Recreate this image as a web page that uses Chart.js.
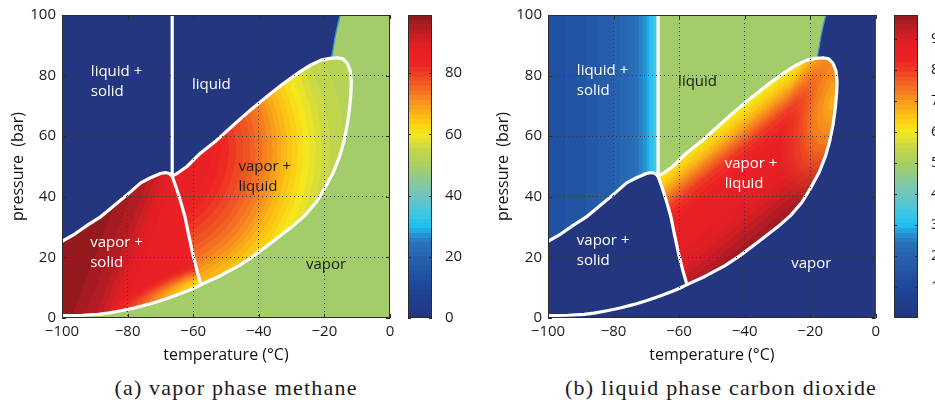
<!DOCTYPE html>
<html>
<head>
<meta charset="utf-8">
<script src="https://cdn.jsdelivr.net/npm/chart.js@4.4.1/dist/chart.umd.min.js"></script>
<style>
  html, body { margin: 0; padding: 0; background: #fff; }
  body { width: 935px; height: 403px; position: relative; overflow: hidden; }
  canvas { position: absolute; top: 0; }
  .caption {
    position: absolute; top: 377px;
    font-family: "Liberation Serif", "Times New Roman", serif;
    font-size: 22px; line-height: 22px; letter-spacing: 1.2px;
    color: #1a1a1a; white-space: nowrap; transform: translateX(-50%);
  }
</style>
</head>
<body>
<canvas id="methane" width="400" height="370" style="left:0px"></canvas>
<canvas id="methaneBar" width="70" height="370" style="left:400px"></canvas>
<canvas id="co2" width="415" height="370" style="left:470px"></canvas>
<canvas id="co2Bar" width="70" height="370" style="left:886px"></canvas>
<div class="caption" style="left:236px">(a) vapor phase methane</div>
<div class="caption" style="left:721px">(b) liquid phase carbon dioxide</div>

<script>
// ---- phase boundaries: temperature (°C) / pressure (bar) ----
var subTemp = [-100, -96, -92, -88.5, -85, -80, -76, -73, -70, -68.5, -67.3, -66.4];
var subPres = [25.3, 27.8, 30.8, 33.2, 36.3, 40.8, 44.6, 46.3, 47.7, 48.0, 47.7, 46.8];
var meltTemp = [-66.4, -66.4];
var meltPres = [46.8, 100];
var threeTemp = [-66.4, -65.0, -63.7, -62.5, -61.4, -60.0, -58.8, -57.6];
var threePres = [46.8, 42.5, 38, 33.4, 27.5, 20.5, 15.5, 11];
var lowTemp = [-100, -94, -89, -86, -82, -78, -74, -70, -66, -62, -59.5, -57.6];
var lowPres = [0.8, 0.9, 1.2, 1.6, 2.4, 3.3, 4.4, 5.7, 7.2, 8.8, 10, 11];
var dewTemp = [-57.6, -52, -46, -41.5, -36, -30, -26, -22.5, -19.8, -17.3, -15.3, -14, -13, -12.3, -11.9, -11.8, -12.1, -13, -14.3, -16, -18.3];
var dewPres = [11, 13.8, 17.3, 20.5, 25, 30, 33.8, 38.2, 43, 48, 53.5, 58.5, 64, 69.5, 74.5, 78, 81.5, 84, 85.5, 85.9, 85.7];
var bubTemp = [-18.3, -21, -24, -27.4, -32.5, -37.6, -42.6, -47.7, -52.8, -57.9, -61.9, -64.5, -66.4];
var bubPres = [85.7, 85.1, 83.6, 81.3, 77.4, 73.0, 68.6, 63.7, 58.7, 54.3, 50, 48, 46.8];
var edgeTemp = [-17.8, -17.3, -16.7, -16.0, -15.2];
var edgePres = [86, 89, 93, 96.5, 100];

// ---- axis ticks ----
var tempTicks = [-100, -80, -60, -40, -20, 0];
var presTicks = [0, 20, 40, 60, 80, 100];
var barTicksA = [0, 20, 40, 60, 80];
var barTicksB = [10, 20, 30, 40, 50, 60, 70, 80, 90];
var barMaxA = 99;
var barMaxB = 97.7;

// ---- percentages in each region ----
var flatVapor = 49;          // methane in vapor, single phase vapor
var flatLiquid = 49;         // CO2 in liquid, single phase liquid
var flatNone = 0;
// vapor + solid (methane), across the region from the cold side to the three-phase line
var vsMethaneAt = [0, 0.35, 0.55, 0.68, 0.8, 1];
var vsMethane = [99, 97.5, 94, 89, 86, 85];
// yellow fringe in the warm corner of vapor + solid
var fringeAt = [0, 0.15, 0.3, 0.45, 0.6, 0.8, 1];
var fringeMethane = [62, 63, 67, 72, 77, 82, 85];
var fringeAlpha = [1, 1, 1, 1, 1, 0.6, 0];
// vapor + liquid (methane), outward from the cold corner (distance in °C)
var vlMethaneAt = [0, 13.7, 20.7, 27.4, 34.1, 39.6, 45.1, 50.6, 56.7, 65.5];
var vlMethane = [89, 87, 85, 81, 76, 71, 65, 60, 55, 52];
// vapor + liquid (CO2), from the bubble line towards the dew line
var vlCo2At = [0, 0.064, 0.144, 0.24, 0.36, 0.6, 0.76, 0.88, 1];
var vlCo2 = [60, 64, 71, 80, 85, 88, 93, 97, 98];
// warmer band along the dew line of the CO2 panel
var rimCo2At = [0, 0.4, 0.7, 1];
var rimCo2 = [64, 70, 76, 80];
var rimAlpha = [0.9, 0.75, 0.4, 0];
// liquid + solid (CO2), across temperature
var lsCo2Temp = [-100, -90, -80, -74, -71.5, -70, -69, -68, -67.2, -66.4];
var lsCo2 = [13, 15, 19, 23, 26, 28, 30.5, 33, 37, 40];

// colour scale used by both panels
var cmapStops = [[0,'#24367f'],[6,'#203f8f'],[12,'#1f4c9e'],[19,'#2660ad'],[24,'#2a70b9'],[27,'#2590d3'],
  [30,'#1fc0ee'],[34,'#3bc6e4'],[39,'#6ac5c4'],[44,'#86c8a0'],[49,'#a2cd6a'],[55,'#c6d748'],[60,'#f4e81f'],
  [64,'#fdcb12'],[69,'#f9a11b'],[74,'#f47122'],[79,'#ef4524'],[83,'#ed2224'],[89,'#e21f25'],[93,'#c21d24'],
  [97,'#9c1b20'],[100,'#7c1518']];
var cmapRgb = cmapStops.map(s => [s[0], [1, 3, 5].map(k => parseInt(s[1].slice(k, k + 2), 16))]);

function cmap(v, a) {
  if (a === undefined) a = 1;
  v = Math.max(0, Math.min(100, v));
  var i = 0;
  while (i < cmapRgb.length - 2 && v > cmapRgb[i + 1][0]) i++;
  var lo = cmapRgb[i], hi = cmapRgb[i + 1];
  var t = (v - lo[0]) / (hi[0] - lo[0]);
  var c = lo[1].map((x, k) => Math.round(x + (hi[1][k] - x) * t));
  return 'rgba(' + c[0] + ',' + c[1] + ',' + c[2] + ',' + a + ')';
}

function lerp(xs, ys, x) {
  if (x <= xs[0]) return ys[0];
  for (var i = 1; i < xs.length; i++) {
    if (x <= xs[i]) return ys[i - 1] + (ys[i] - ys[i - 1]) * (x - xs[i - 1]) / (xs[i] - xs[i - 1]);
  }
  return ys[ys.length - 1];
}

// fill a gradient with banded colours, 64 levels like the colour bar
var BAND = 100 / 64;
function bandStops(grad, at, vals, alphas) {
  var n = 240, prev = null;
  for (var i = 0; i <= n; i++) {
    var t = i / n;
    var v = lerp(at, vals, t);
    var a = alphas ? lerp(at, alphas, t).toFixed(3) : 1;
    var col = cmap((Math.floor(v / BAND) + 0.5) * BAND, a);
    if (prev && prev !== col) grad.addColorStop(t, prev);
    grad.addColorStop(t, col);
    prev = col;
  }
}

function pix(chart, t, p) {
  return [chart.scales.x.getPixelForValue(t), chart.scales.y.getPixelForValue(p)];
}

function linearShade(from, to, at, vals) {
  return function (ctx) {
    var chart = ctx.chart;
    if (!chart.chartArea) return 'transparent';
    var a = pix(chart, from[0], from[1]), b = pix(chart, to[0], to[1]);
    var g = chart.ctx.createLinearGradient(a[0], a[1], b[0], b[1]);
    bandStops(g, at, vals);
    return g;
  };
}

function radialShade(center, radius, at, vals) {
  return function (ctx) {
    var chart = ctx.chart;
    if (!chart.chartArea) return 'transparent';
    var c = pix(chart, center[0], center[1]);
    var r = chart.scales.x.getPixelForValue(center[0] + radius) - c[0];
    var g = chart.ctx.createRadialGradient(c[0], c[1], 0, c[0], c[1], r);
    bandStops(g, at.map(x => x / radius), vals);
    return g;
  };
}

// elliptical shade, long axis pointing from center towards `toward`
function ellipseShade(center, toward, longT, shortT, at, vals, alphas) {
  return function (ctx) {
    var chart = ctx.chart;
    if (!chart.chartArea) return 'transparent';
    var c = pix(chart, center[0], center[1]), d = pix(chart, toward[0], toward[1]);
    var sx = chart.scales.x;
    var a = sx.getPixelForValue(center[0] + longT) - c[0];
    var b = sx.getPixelForValue(center[0] + shortT) - c[0];
    var off = document.createElement('canvas');
    off.width = chart.width;
    off.height = chart.height;
    var o = off.getContext('2d');
    o.translate(c[0], c[1]);
    o.rotate(Math.atan2(d[1] - c[1], d[0] - c[0]));
    o.scale(1, b / a);
    var g = o.createRadialGradient(0, 0, 0, 0, 0, a);
    bandStops(g, at, vals, alphas);
    o.fillStyle = g;
    o.fillRect(-2 * a, -2 * a, 4 * a, 4 * a);
    return chart.ctx.createPattern(off, 'no-repeat');
  };
}

var curve = (ts, ps) => ts.map((t, i) => ({ x: t, y: ps[i] }));
var rev = arr => arr.slice().reverse();

var sub = curve(subTemp, subPres);
var melt = curve(meltTemp, meltPres);
var three = curve(threeTemp, threePres);
var low = curve(lowTemp, lowPres);
var dew = curve(dewTemp, dewPres);
var bub = curve(bubTemp, bubPres);
var edge = curve(edgeTemp, edgePres);

var whole = curve([-100, 0, 0, -100], [0, 0, 100, 100]);
var vaporZone = [].concat(curve([-100, 0, 0], [0, 0, 100]), rev(edge), rev(dew), rev(low));
var vaporSolidZone = [].concat(sub, three, rev(low));
var vaporLiquidZone = [].concat(three, dew, bub);
var liquidSolidZone = [].concat(sub, melt, [{ x: -100, y: 100 }]);
var liquidZone = [].concat(melt, rev(edge), bub);

function zone(data, color) {
  return { data: data, fill: 'shape', backgroundColor: color, borderColor: 'transparent', borderWidth: 0 };
}
function boundary(data, color, width) {
  return { data: data, fill: false, borderColor: color, borderWidth: width,
    borderJoinStyle: 'round', borderCapStyle: 'round' };
}
var outline = [].concat(low, dew, bub);
var whiteLines = [
  boundary(outline, '#ffffff', 3.2),
  boundary(sub, '#ffffff', 3.2),
  boundary(three, '#ffffff', 3.2),
  boundary(melt, '#ffffff', 3.2)
];

var methaneLayers = [
  zone(whole, cmap(flatNone)),
  zone(vaporZone, cmap(flatVapor)),
  zone(vaporSolidZone, linearShade([-100, 38.5], [-63, 23.1], vsMethaneAt, vsMethane)),
  zone(vaporSolidZone, ellipseShade([-57.7, 10.9], [-70, 5.7], 34, 7.5, fringeAt, fringeMethane, fringeAlpha)),
  zone(vaporLiquidZone, radialShade([-76.2, 55.4], 65.5, vlMethaneAt, vlMethane)),
  boundary(edge, '#3d8fcf', 1.3)
].concat(whiteLines);

var co2Layers = [
  zone(whole, cmap(flatNone)),
  zone(liquidSolidZone, linearShade([lsCo2Temp[0], 50], [lsCo2Temp[lsCo2Temp.length - 1], 50],
    lsCo2Temp.map(t => (t - lsCo2Temp[0]) / (lsCo2Temp[lsCo2Temp.length - 1] - lsCo2Temp[0])), lsCo2)),
  zone(liquidZone, cmap(flatLiquid)),
  zone(vaporLiquidZone, linearShade([-66.4, 46.8], [-41.7, 14.0], vlCo2At, vlCo2)),
  zone(vaporLiquidZone, ellipseShade([-12.5, 72], [-22.5, 38.2], 34, 14, rimCo2At, rimCo2, rimAlpha)),
  boundary(edge, '#3d8fcf', 1.3)
].concat(whiteLines);

var dark = '#1a1a1a', light = '#ffffff';
var methaneText = [
  { text: ['liquid +', 'solid'], t: -91.2, p: 81.4, color: light },
  { text: ['liquid'], t: -60.4, p: 77, color: light },
  { text: ['vapor +', 'liquid'], t: -46.2, p: 50, color: dark },
  { text: ['vapor +', 'solid'], t: -91.4, p: 24.8, color: light },
  { text: ['vapor'], t: -25.6, p: 17.5, color: dark }
];
var co2Text = [
  { text: ['liquid +', 'solid'], t: -91.2, p: 81.6, color: light },
  { text: ['liquid'], t: -60.3, p: 78, color: dark },
  { text: ['vapor +', 'liquid'], t: -46.1, p: 50.8, color: light },
  { text: ['vapor +', 'solid'], t: -91.2, p: 25.4, color: light },
  { text: ['vapor'], t: -25.8, p: 18, color: light }
];

var sans = '"Open Sans", "DejaVu Sans", sans-serif';
var minus = v => String(v).replace('-', '\u2212');

// box around the axes with short inward ticks
var framePlugin = {
  id: 'frame',
  afterDraw(chart, args, opts) {
    var ctx = chart.ctx, a = chart.chartArea, len = opts.len || 4;
    ctx.save();
    ctx.strokeStyle = '#2b2b2b';
    ctx.lineWidth = 1;
    ctx.strokeRect(a.left + 0.5, a.top + 0.5, a.width - 1, a.height - 1);
    ctx.beginPath();
    if (opts.xTicks) {
      chart.scales.x.ticks.forEach(tk => {
        var x = Math.round(chart.scales.x.getPixelForValue(tk.value)) + 0.5;
        ctx.moveTo(x, a.bottom); ctx.lineTo(x, a.bottom - len);
        ctx.moveTo(x, a.top); ctx.lineTo(x, a.top + len);
      });
    }
    chart.scales.y.ticks.forEach(tk => {
      var y = Math.round(chart.scales.y.getPixelForValue(tk.value)) + 0.5;
      ctx.moveTo(a.left, y); ctx.lineTo(a.left + len, y);
      ctx.moveTo(a.right, y); ctx.lineTo(a.right - len, y);
    });
    ctx.stroke();
    ctx.restore();
  }
};

// region names, anchored in temperature / pressure
var textPlugin = {
  id: 'regionText',
  afterDraw(chart, args, opts) {
    var ctx = chart.ctx;
    ctx.save();
    ctx.font = '15px ' + sans;
    ctx.textAlign = 'left';
    ctx.textBaseline = 'middle';
    (opts.items || []).forEach(item => {
      var p = pix(chart, item.t, item.p);
      ctx.fillStyle = item.color;
      item.text.forEach((s, k) => ctx.fillText(s, p[0], p[1] + k * 20));
    });
    ctx.restore();
  }
};

var gridColor = c => (c.tick && (c.tick.value === c.scale.min || c.tick.value === c.scale.max))
  ? 'rgba(0,0,0,0)' : '#3a3a3a';

function phasePanel(id, layers, labels, yAxisWidth, titlePad, padRight) {
  return new Chart(document.getElementById(id), {
    type: 'scatter',
    data: {
      datasets: layers.map((d, i) => Object.assign({
        showLine: true, pointRadius: 0, pointHoverRadius: 0, clip: 0, order: layers.length - i
      }, d))
    },
    options: {
      responsive: false,
      animation: false,
      events: [],
      layout: { padding: { left: 0, right: padRight, top: 15, bottom: 0 } },
      plugins: {
        legend: { display: false },
        tooltip: { enabled: false },
        frame: { len: 4, xTicks: true },
        regionText: { items: labels }
      },
      scales: {
        x: {
          type: 'linear', min: -100, max: 0,
          afterBuildTicks: s => { s.ticks = tempTicks.map(v => ({ value: v })); },
          afterFit: s => { s.height = 52; },
          ticks: { font: { family: sans, size: 15 }, color: dark, padding: 5, callback: minus, maxRotation: 0 },
          grid: { z: 1, drawTicks: false, color: gridColor, lineWidth: 1, borderDash: [1, 3] },
          border: { display: false, dash: [1, 3] },
          title: { display: true, text: 'temperature (°C)', color: '#111',
            font: { family: sans, size: 16 }, padding: { top: 0, bottom: 5 } }
        },
        y: {
          type: 'linear', min: 0, max: 100,
          afterBuildTicks: s => { s.ticks = presTicks.map(v => ({ value: v })); },
          afterFit: s => { s.width = yAxisWidth; },
          ticks: { font: { family: sans, size: 15 }, color: dark, padding: 6 },
          grid: { z: 1, drawTicks: false, color: gridColor, lineWidth: 1, borderDash: [1, 3] },
          border: { display: false, dash: [1, 3] },
          title: { display: true, text: 'pressure  (bar)', color: '#111',
            font: { family: sans, size: 16 }, padding: { top: titlePad, bottom: 0 } }
        }
      }
    },
    plugins: [framePlugin, textPlugin]
  });
}

function barShade(max) {
  return function (ctx) {
    var chart = ctx.chart;
    if (!chart.chartArea) return 'transparent';
    var y = chart.scales.y;
    var g = chart.ctx.createLinearGradient(0, y.getPixelForValue(0), 0, y.getPixelForValue(max));
    var n = 64;
    for (var k = 0; k < n; k++) {
      var c = cmap((k + 0.5) * max / n);
      g.addColorStop(k / n, c);
      g.addColorStop((k + 1) / n, c);
    }
    return g;
  };
}

function colorBar(id, max, ticks) {
  return new Chart(document.getElementById(id), {
    type: 'bar',
    data: {
      labels: [''],
      datasets: [{ data: [[0, max]], backgroundColor: barShade(max), borderWidth: 0,
        barPercentage: 1, categoryPercentage: 1 }]
    },
    options: {
      responsive: false,
      animation: false,
      events: [],
      layout: { padding: { left: 8, right: 0, top: 15, bottom: 52 } },
      plugins: { legend: { display: false }, tooltip: { enabled: false }, frame: { len: 3, xTicks: false } },
      scales: {
        x: { display: false },
        y: {
          position: 'right', min: 0, max: max,
          afterBuildTicks: s => { s.ticks = ticks.map(v => ({ value: v })); },
          afterFit: s => { s.width = 70 - 8 - 24; },
          grid: { display: false },
          border: { display: false },
          ticks: { font: { family: sans, size: 15 }, color: dark, padding: 5 }
        }
      }
    },
    plugins: [framePlugin]
  });
}

phasePanel('methane', methaneLayers, methaneText, 62, 9, 10);
colorBar('methaneBar', barMaxA, barTicksA);
phasePanel('co2', co2Layers, co2Text, 78, 24, 8);
colorBar('co2Bar', barMaxB, barTicksB);
</script>
</body>
</html>
